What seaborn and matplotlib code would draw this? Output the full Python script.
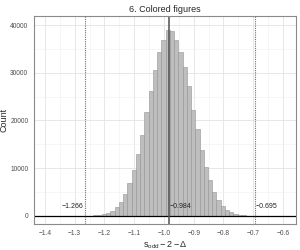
import numpy as np
import pandas as pd
import matplotlib
matplotlib.use('Agg')
import matplotlib.pyplot as plt
from matplotlib.ticker import MultipleLocator
import seaborn as sns

# summary values shown on the chart
x_min = -1.266
x_mean = -0.984
x_max = -0.695
n_bins = 40

# bar heights (40 equal bins from x_min to x_max)
counts = [20, 60, 120, 220, 330, 600, 1000, 1900, 2900, 4500,
          6800, 9600, 12900, 17000, 21700, 26200, 30600, 34400, 36900, 38900,
          38800, 36900, 34400, 31200, 27200, 22300, 18300, 13900, 10200, 7500,
          5050, 3250, 2100, 1260, 770, 420, 220, 130, 70, 40]

title = '6. Colored figures'
x_label = r'$\mathrm{s_{odd}} - 2 - \Delta$'
y_label = 'Count'

sns.set_theme(style='white')
plt.rcParams['font.family'] = ['Liberation Sans', 'DejaVu Sans']
plt.rcParams['mathtext.fontset'] = 'custom'
plt.rcParams['mathtext.rm'] = 'Liberation Sans'
plt.rcParams['mathtext.it'] = 'Liberation Sans:italic'

edges = np.linspace(x_min, x_max, n_bins + 1)
df = pd.DataFrame({'x': (edges[:-1] + edges[1:]) / 2, 'count': counts})

fig = plt.figure(figsize=(3, 2.5), dpi=100)
ax = fig.add_axes([0.113, 0.104, 0.874, 0.832])

sns.histplot(data=df, x='x', weights='count', bins=n_bins,
             binrange=(x_min, x_max), ax=ax,
             color='#bebebe', edgecolor='#939393', linewidth=0.4, alpha=1)

ax.set_xlim(-1.437, -0.556)
ax.set_ylim(-1700, 41900)
ax.xaxis.set_major_locator(MultipleLocator(0.1))
ax.xaxis.set_minor_locator(MultipleLocator(0.05))
ax.yaxis.set_major_locator(MultipleLocator(10000))
ax.yaxis.set_minor_locator(MultipleLocator(5000))
ax.grid(which='major', color='#e3e3e3', linewidth=0.6)
ax.grid(which='minor', color='#efefef', linewidth=0.4)
ax.set_axisbelow(True)

ax.axhline(0, color='black', linewidth=0.9)
ax.axvline(x_mean, color='#505050', linewidth=1.1)
for v in (x_min, x_max):
    ax.axvline(v, color='#707070', linewidth=0.8, linestyle=(0, (1, 1)))

ax.text(x_min - 0.004, 1900, f'{x_min:.3f}'.replace('-', '\u2212'),
        ha='right', va='center', fontsize=5, color='#222222')
ax.text(x_mean + 0.002, 1900, f'{x_mean:.3f}'.replace('-', '\u2212'),
        ha='left', va='center', fontsize=5, color='#222222')
ax.text(x_max + 0.002, 1900, f'{x_max:.3f}'.replace('-', '\u2212'),
        ha='left', va='center', fontsize=5, color='#222222')

for s in ax.spines.values():
    s.set_color('#8a8a8a')
    s.set_linewidth(0.8)
ax.tick_params(which='major', length=2, width=0.5, color='#555555',
               labelsize=4.8, labelcolor='#4d4d4d', pad=2)
ax.tick_params(which='minor', length=0)

ax.set_title(title, fontsize=6.5, pad=3)
ax.set_xlabel(x_label, fontsize=6.5, labelpad=2)
ax.set_ylabel(y_label, fontsize=6.5)
ax.yaxis.set_label_coords(-0.098, 0.5)

fig.savefig('out.png', dpi=100)
